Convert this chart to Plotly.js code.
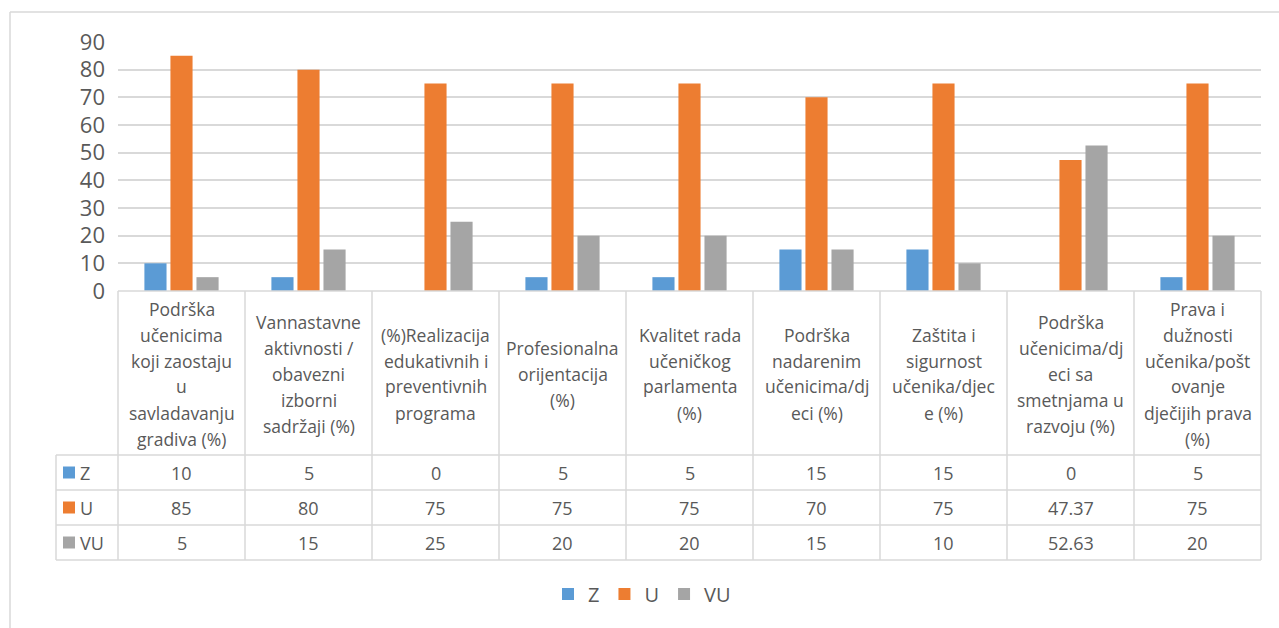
<!DOCTYPE html>
<html>
<head>
<meta charset="utf-8">
<script src="https://cdn.plot.ly/plotly-3.0.1.min.js"></script>
<style>
  html, body { margin: 0; padding: 0; background: #ffffff; }
  #chart { width: 1279px; height: 628px; }
</style>
</head>
<body>
<div id="chart"></div>
<script>
// ---- data ----
const categories = [
  "Podrška\nučenicima\nkoji zaostaju\nu\nsavladavanju\ngradiva (%)",
  "Vannastavne\naktivnosti /\nobavezni\nizborni\nsadržaji (%)",
  "(%)Realizacija\nedukativnih i\npreventivnih\nprograma",
  "Profesionalna\norijentacija\n(%)",
  "Kvalitet rada\nučeničkog\nparlamenta\n(%)",
  "Podrška\nnadarenim\nučenicima/dj\neci (%)",
  "Zaštita i\nsigurnost\nučenika/djec\ne (%)",
  "Podrška\nučenicima/dj\neci sa\nsmetnjama u\nrazvoju (%)",
  "Prava i\ndužnosti\nučenika/pošt\novanje\ndječijih prava\n(%)"
];
const seriesNames = ["Z", "U", "VU"];
const Z  = [10, 5, 0, 5, 5, 15, 15, 0, 5];
const U  = [85, 80, 75, 75, 75, 70, 75, 47.37, 75];
const VU = [5, 15, 25, 20, 20, 15, 10, 52.63, 20];
const yTicks = [0, 10, 20, 30, 40, 50, 60, 70, 80, 90];

// ---- style ----
const colors = ["#5B9BD5", "#ED7D31", "#A5A5A5"];
const textColor = "#595959";
const lineColor = "#D9D9D9";
const FONT = "Open Sans, sans-serif";

// plot-area geometry in pixels
const L = 118, R = 1261, T = 42, B = 291;
const px = x => (x - L) / (R - L);
const py = y => (B - y) / (B - T);

const seriesValues = [Z, U, VU];
const traces = seriesValues.map((vals, i) => ({
  type: "bar",
  name: seriesNames[i],
  x: categories,
  y: vals,
  marker: { color: colors[i] },
  hoverinfo: "x+y+name"
}));

const shapes = [];
const annotations = [];
function hline(x0, x1, y) {
  shapes.push({ type: "line", xref: "paper", yref: "paper",
    x0: px(x0), x1: px(x1), y0: py(y), y1: py(y),
    line: { color: lineColor, width: 1.5 } });
}
function vline(x, y0, y1) {
  shapes.push({ type: "line", xref: "paper", yref: "paper",
    x0: px(x), x1: px(x), y0: py(y0), y1: py(y1),
    line: { color: lineColor, width: 1.5 } });
}

// outer chart border (extends beyond right/bottom edge)
hline(10, 1300, 12);
vline(10, 12, 650);

// data table grid
const colW = (R - L) / categories.length;
const headTop = 291, headBot = 455, rowH = 35;
hline(L, R, headTop);
for (let r = 0; r <= 3; r++) hline(56, R, headBot + r * rowH);
for (let c = 0; c <= categories.length; c++) vline(L + c * colW, headTop, headBot + 3 * rowH);
vline(56, headBot, headBot + 3 * rowH);

// header text (category labels), one annotation per line
const headCenter = (headTop + headBot) / 2 + 0.5;
const lineGap = 26;
categories.forEach((cat) => {
  const lines = cat.split("\n");
  lines.forEach((ln, j) => {
    const y = headCenter + (j - (lines.length - 1) / 2) * lineGap;
    annotations.push({ xref: "x", yref: "paper", x: cat, y: py(y),
      text: ln, showarrow: false, xanchor: "center", yanchor: "middle",
      font: { family: FONT, size: 17.5, color: textColor } });
  });
});

// table rows: legend key + values
seriesValues.forEach((vals, r) => {
  const yc = headBot + r * rowH + rowH / 2;
  shapes.push({ type: "rect", xref: "paper", yref: "paper",
    x0: px(63), x1: px(75), y0: py(yc - 6), y1: py(yc + 6),
    fillcolor: colors[r], line: { width: 0 } });
  annotations.push({ xref: "paper", yref: "paper", x: px(78), y: py(yc),
    text: seriesNames[r], showarrow: false, xanchor: "left", yanchor: "middle",
    font: { family: FONT, size: 18, color: textColor } });
  vals.forEach((v, c) => {
    annotations.push({ xref: "x", yref: "paper", x: categories[c], y: py(yc),
      text: String(v), showarrow: false, xanchor: "center", yanchor: "middle",
      font: { family: FONT, size: 18, color: textColor } });
  });
});

const layout = {
  width: 1279, height: 628,
  margin: { l: L, r: 1279 - R, t: T, b: 628 - B, pad: 0 },
  paper_bgcolor: "#ffffff",
  plot_bgcolor: "#ffffff",
  barmode: "group",
  bargap: 0.385,
  bargroupgap: 0.15,
  showlegend: true,
  legend: {
    orientation: "h",
    x: px(642), xanchor: "center",
    y: py(594), yanchor: "middle",
    font: { family: FONT, size: 20, color: textColor },
    itemclick: false
  },
  xaxis: {
    type: "category",
    showticklabels: false,
    showgrid: false,
    zeroline: false,
    showline: false,
    ticks: "",
    range: [-0.5, categories.length - 0.5]
  },
  yaxis: {
    range: [0, 90],
    tickvals: yTicks,
    ticktext: yTicks.map(String),
    showgrid: true,
    gridcolor: lineColor,
    gridwidth: 1.5,
    zeroline: false,
    showline: false,
    ticks: "",
    ticklabelstandoff: 12,
    tickfont: { family: FONT, size: 22, color: textColor }
  },
  shapes: shapes,
  annotations: annotations
};

Plotly.newPlot("chart", traces, layout, { displayModeBar: false, staticPlot: false });
</script>
</body>
</html>
